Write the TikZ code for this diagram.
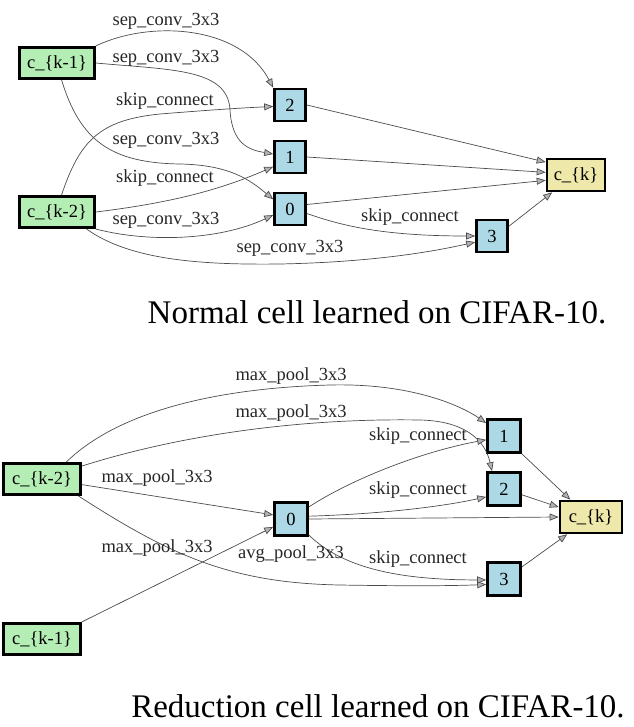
\documentclass[tikz,border=0pt]{standalone}
\usepackage{fontspec}
\setmainfont{Liberation Serif}
\usetikzlibrary{arrows.meta}
\definecolor{seagreen}{HTML}{B4EEB4}
\definecolor{lblue}{HTML}{ADD8E6}
\definecolor{goldenrod}{HTML}{EEE8AA}
\tikzset{
  cellbox/.style={draw, line width=2.6pt, inner sep=0pt, font=\fontsize{18.5}{20}\selectfont},
  inbox/.style={cellbox, fill=seagreen, minimum width=75pt, minimum height=31.5pt},
  midbox/.style={cellbox, fill=lblue, minimum width=31pt, minimum height=32pt},
  outbox/.style={cellbox, fill=goldenrod, minimum width=58pt, minimum height=32pt},
  conn/.style={draw=black!70, line width=0.7pt, -{Triangle[length=9pt,width=7pt,fill=black!30]}},
  lbl/.style={anchor=base, inner sep=0pt, text=black!85, font=\fontsize{18.5}{20}\selectfont},
  caption/.style={anchor=base, inner sep=0pt, font=\fontsize{33}{36}\selectfont}
}
\begin{document}
\begin{tikzpicture}[x=1pt,y=-1pt]
\useasboundingbox (0,0) rectangle (633,727);

% normal cell
\node[inbox] (k1) at (57,63) {c\_\{k-1\}};
\node[inbox] (k2) at (57,212) {c\_\{k-2\}};
\node[midbox] (n2) at (290,105) {2};
\node[midbox] (n1) at (290,157) {1};
\node[midbox] (n0) at (290,209) {0};
\node[midbox] (n3) at (492,236) {3};
\node[outbox] (ck) at (576,175) {c\_\{k\}};

\draw[conn] (k1.north east) .. controls (150,20) and (240,25) .. (n2.north west);
\draw[conn] (k1.east) .. controls (170,70) and (228,68) .. (230,110) .. controls (232,145) and (250,150) .. (n1.170);
\draw[conn] (k1.-75) .. controls (80,140) and (110,163) .. (180,164) .. controls (230,165) and (250,180) .. (n0.150);
\draw[conn] (k2.75) .. controls (80,140) and (100,120) .. (160,114) .. controls (210,110) and (240,108) .. (n2.185);
\draw[conn] (k2.east) .. controls (170,203) and (220,190) .. (n1.210);
\draw[conn] (k2.south east) .. controls (150,243) and (220,240) .. (n0.200);
\draw[conn] (k2.-30) .. controls (130,260) and (200,265) .. (280,264) .. controls (380,262) and (440,250) .. (n3.200);
\draw[conn] (n0.-15) .. controls (340,225) and (380,236) .. (n3.west);
\draw[conn] (n2.east) -- (ck.157);
\draw[conn] (n1.east) -- (ck.175);
\draw[conn] (n0.15) -- (ck.190);
\draw[conn] (n3.30) -- (ck.216);

\node[lbl] (l1) at (166,26) {sep\_conv\_3x3};
\node[lbl] (l2) at (166,63) {sep\_conv\_3x3};
\node[lbl] (l3) at (165,106) {skip\_connect};
\node[lbl] (l4) at (166,145) {sep\_conv\_3x3};
\node[lbl] (l5) at (165,183) {skip\_connect};
\node[lbl] (l6) at (166,225) {sep\_conv\_3x3};
\node[lbl] (l7) at (290,252) {sep\_conv\_3x3};
\node[lbl] (l8) at (410,222) {skip\_connect};

\node[caption] (capa) at (377,323) {Normal cell learned on CIFAR-10.};

% reduction cell
\node[inbox, minimum width=77pt] (r2) at (42,479) {c\_\{k-2\}};
\node[inbox, minimum width=77pt] (r1) at (42,639) {c\_\{k-1\}};
\node[midbox, minimum size=33pt] (m0) at (291,519) {0};
\node[midbox, minimum size=33pt] (m1) at (504,436) {1};
\node[midbox, minimum size=33pt] (m2) at (504,489) {2};
\node[midbox, minimum size=33pt] (m3) at (504,579) {3};
\node[outbox, minimum width=62pt] (rk) at (591,517) {c\_\{k\}};

\draw[conn] (r2.35) .. controls (120,410) and (220,388) .. (330,385) .. controls (410,383) and (460,405) .. (m1.144);
\draw[conn] (r2.18) .. controls (180,435) and (300,418) .. (420,420) .. controls (465,421) and (485,440) .. (m2.124);
\draw[conn] (r2.-8.5) -- (m0.167);
\draw[conn] (r2.-25) .. controls (170,555) and (230,583) .. (340,585) .. controls (400,586) and (450,586) .. (m3.197);
\draw[conn] (r1.north east) -- (m0.204);
\draw[conn] (m0.34) .. controls (350,480) and (420,452) .. (m1.192);
\draw[conn] (m0.9) .. controls (380,514) and (440,507) .. (m2.204);
\draw[conn] (m0.east) -- (rk.west);
\draw[conn] (m0.-42) .. controls (340,565) and (390,580) .. (m3.183);
\draw[conn] (m1.south east) -- (rk.140);
\draw[conn] (m2.-18) -- (rk.163);
\draw[conn] (m3.34) -- (rk.216);

\node[lbl] (p1) at (291,380) {max\_pool\_3x3};
\node[lbl] (p2) at (291,417) {max\_pool\_3x3};
\node[lbl] (p3) at (157,482) {max\_pool\_3x3};
\node[lbl] (p4) at (157,552) {max\_pool\_3x3};
\node[lbl] (p5) at (291,558) {avg\_pool\_3x3};
\node[lbl] (s1) at (418,440) {skip\_connect};
\node[lbl] (s2) at (418,494) {skip\_connect};
\node[lbl] (s3) at (418,563) {skip\_connect};

\node[caption] (capb) at (378,717) {Reduction cell learned on CIFAR-10.};
\end{tikzpicture}
\end{document}
